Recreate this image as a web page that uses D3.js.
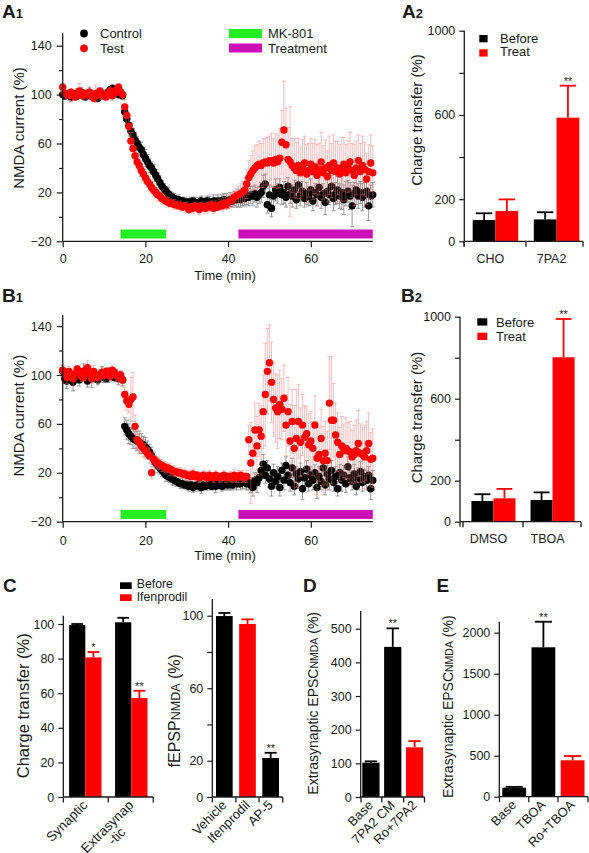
<!DOCTYPE html>
<html>
<head>
<meta charset="utf-8">
<script src="https://cdn.jsdelivr.net/npm/d3@7/dist/d3.min.js"></script>
<style>
html,body{margin:0;padding:0;background:#fff;}
svg{display:block;}
text{font-family:"Liberation Sans",Arial,Helvetica,sans-serif;fill:#1a1a1a;}
</style>
</head>
<body>
<svg id="fig" width="589" height="853"></svg>
<script>
// ================= DATA =================
const timeMin = d3.range(0, 75.01, 0.5);          // sample times (min), 151 samples
const timeTicks = [0, 20, 40, 60];
const nmdaTicksMajor = [-20, 20, 60, 100, 140];
const nmdaTicksMinor = [0, 40, 80, 120];
const mk801Period = [14, 25];
const treatPeriod = [42.5, 75];

// A1
const a1Control = [100,99,101,100,98,100,101,99,100,102,99,98,100,101,99,100,98,97,100,101,99,100,102,104,105,103,101,100,102,
 99,
 86,80,75,70,67,63,60,57,55,51,48,45,42,40,37,34,31,28,25,23,21,19,17,16,15,14,14,13,13,12,12,
 12,12,13,12,11,12,13,12,12,13,12,11,13,12,13,12,13,14,13,12,
 14,13,15,14,15,14,16,15,17,16,
 18,17,19,16,18,20,25,27,10,18,7,17,22,19,24,18,20,16,25,19,17,22,14,26,18,21,15,19,17,22,13,20,18,24,16,19,12,21,18,25,15,19,22,17,20,14,19,21,17,9,19,22,17,20,16,18,21,9,17,18];
const a1ControlErr = [2,3,2,3,4,3,2,3,3,4,3,2,3,5,3,2,4,3,3,2,3,4,3,2,3,3,2,3,3,
 3,
 4,5,5,6,5,6,6,5,6,6,7,6,6,5,6,5,5,6,5,4,4,5,4,4,4,3,4,3,3,4,3,
 3,4,3,4,3,4,4,3,4,4,5,4,5,4,5,4,5,5,6,5,
 6,5,6,6,7,6,7,6,7,7,
 7,8,7,8,7,8,9,8,7,8,7,8,9,8,7,8,9,8,7,8,9,8,7,8,9,8,7,9,8,9,8,7,9,8,9,8,10,9,8,9,10,9,11,10,14,12,10,9,11,17,9,12,10,9,11,10,12,12,9,10];
const a1Test = [106,101,100,99,102,100,98,101,103,100,99,101,100,102,99,97,101,100,103,99,100,98,101,103,99,101,104,106,102,
 100,
 90,83,74,62,56,50,45,42,38,35,32,29,27,24,22,20,18,17,15,14,13,12,11,11,10,10,9,9,8,9,8,
 6,8,7,9,8,6,9,8,7,9,8,10,7,9,8,10,9,11,10,12,
 13,14,16,17,18,19,20,22,27,32,
 35,38,40,42,43,42,44,45,44,46,46,44,47,45,48,61,71,59,47,45,
 42,40,38,42,36,40,44,35,38,43,37,41,34,39,45,36,40,33,42,38,44,37,40,35,39,43,36,41,45,38,34,40,46,37,42,39,31,37,44,36];
const a1TestErr = [3,2,3,4,3,2,3,4,6,3,2,3,4,3,2,3,7,3,2,3,4,3,2,3,4,3,2,3,3,
 4,
 6,7,8,7,6,7,6,6,5,6,5,5,6,5,5,4,5,4,4,4,3,4,3,3,4,3,3,4,3,3,4,
 3,3,4,3,3,4,3,3,4,3,4,3,4,4,3,4,4,5,4,5,
 5,6,5,6,7,8,9,10,12,14,
 15,16,18,17,19,18,20,19,21,20,22,20,21,22,24,26,40,30,26,45,
 22,24,23,22,21,23,22,24,22,21,23,22,25,21,24,22,23,21,24,22,23,25,22,24,26,22,23,21,24,22,25,22,21,23,24,22,21,22,23,22];

// B1
const b1Control = [103,97,95,100,98,94,99,101,96,100,103,98,95,100,97,101,99,96,100,102,98,97,100,99,101,98,100,97,99,
 96,
 58,55,52,50,48,47,46,45,44,43,41,39,37,34,31,28,26,24,22,20,18,17,16,15,14,13,12,11,11,10,10,
 9,10,8,9,10,9,8,10,9,10,11,9,10,9,11,10,9,10,11,10,
 11,10,12,11,12,11,13,12,11,12,
 10,8,14,12,16,22,27,18,24,15,9,20,13,17,8,22,14,26,18,12,24,9,19,15,21,7,16,23,11,18,14,20,8,17,13,24,10,19,15,22,12,17,7,20,14,18,11,25,16,13,19,9,15,21,12,17,14,18,7,14];
const b1ControlErr = [5,4,6,3,5,7,4,3,5,4,6,3,5,4,7,3,5,4,3,5,4,3,6,4,5,3,4,5,4,
 5,
 7,8,8,7,8,7,8,9,8,7,8,7,6,7,6,5,6,5,5,4,5,4,4,5,4,4,3,4,4,3,4,
 4,3,4,4,3,4,5,4,3,4,4,3,4,5,4,3,4,4,5,4,
 5,4,5,5,4,5,6,5,5,6,
 6,7,6,8,7,6,8,7,6,7,8,7,6,8,7,6,8,7,6,7,8,7,6,8,7,9,8,7,6,7,8,7,9,8,7,6,8,7,9,8,7,8,6,7,9,8,7,8,6,7,8,7,9,8,7,6,8,7,9,8];
const b1Test = [104,102,98,103,100,97,101,105,103,99,98,104,106,101,97,103,100,98,99,102,100,103,101,99,104,102,100,98,100,
 96,
 84,79,76,80,82,58,47,45,42,40,38,36,34,20,31,29,28,27,26,25,24,24,23,22,21,21,20,20,19,19,18,
 18,17,19,17,18,16,17,18,17,16,18,17,16,18,17,16,17,18,16,17,
 17,16,18,16,17,18,17,16,17,47,
 28,36,55,42,55,50,70,84,103,110,94,80,73,70,76,72,81,59,70,46,
 62,40,48,62,45,59,49,52,43,46,40,59,32,35,48,30,36,30,77,63,63,51,45,35,42,38,40,38,37,33,35,38,44,36,35,33,38,44,31,32];
const b1TestErr = [4,3,5,4,3,6,4,3,5,4,3,4,6,3,4,5,3,4,3,4,5,3,4,3,4,3,5,4,4,
 5,
 6,8,7,18,20,9,8,7,6,7,6,5,6,5,6,5,5,4,5,4,4,4,5,4,4,3,4,4,3,4,4,
 4,3,4,4,3,4,3,4,4,3,4,3,4,4,3,4,3,4,4,3,
 4,4,5,4,5,4,5,4,5,12,
 33,20,22,24,22,25,30,42,35,31,33,30,28,30,28,25,27,25,28,30,
 26,35,40,30,28,25,26,22,25,24,22,24,30,22,24,28,26,24,38,52,30,26,24,22,24,22,25,23,25,22,24,25,27,24,22,26,24,25,22,24];

// A2
const a2Groups = ["CHO", "7PA2"];
const a2Before = [101, 104];
const a2BeforeErr = [32, 34];
const a2Treat = [144, 587];
const a2TreatErr = [55, 152];
// B2
const b2Groups = ["DMSO", "TBOA"];
const b2Before = [101, 106];
const b2BeforeErr = [33, 37];
const b2Treat = [114, 802];
const b2TreatErr = [46, 187];
const chargeTicks = [0, 200, 400, 600, 800, 1000];
const chargeLabeled = [0, 200, 600, 1000];

// C left
const cGroups = [["Synaptic"], ["Extrasynap", "-tic"]];
const cBefore = [99.4, 101];
const cBeforeErr = [0.6, 2.6];
const cIfen = [80.7, 57.2];
const cIfenErr = [3.1, 4.2];
const cTicks = [0, 20, 40, 60, 80, 100];
// C right
const fGroups = ["Vehicle", "Ifenprodil", "AP-5"];
const fVals = [99.8, 95.4, 21.5];
const fErr = [1.7, 2.6, 2.9];
const fTicks = [0, 20, 40, 60, 80, 100];
const fLabeled = [0, 20, 60, 100];
// D
const dGroups = ["Base", "7PA2 CM", "Ro+7PA2"];
const dVals = [102, 446, 147.5];
const dErr = [4, 55, 18.5];
const dTicks = [0, 100, 200, 300, 400, 500];
// E
const eGroups = ["Base", "TBOA", "Ro+TBOA"];
const eVals = [110, 1822, 444];
const eErr = [10, 312, 52];
const eTicks = [0, 500, 1000, 1500, 2000];

// ================= DRAWING =================
const svg = d3.select("#fig");
const FONT = '"Liberation Sans",Arial,Helvetica,sans-serif';
const INK = "#1a1a1a";
const RED = "#ff0000";
const GREEN = "#22ee22";
const MAGENTA = "#cc10b8";

function styleAxis(g, fs) {
  g.attr("font-family", null).attr("font-size", null);
  g.select(".domain").remove();
  g.selectAll(".tick line").attr("stroke", INK).attr("stroke-width", 1.2);
  g.selectAll(".tick text").attr("font-size", fs).attr("fill", INK).style("font-family", FONT);
}
function vline(x, y1, y2) {
  svg.append("line").attr("x1", x).attr("x2", x).attr("y1", y1).attr("y2", y2)
    .attr("stroke", INK).attr("stroke-width", 1.3);
}
function hline(x1, x2, y) {
  svg.append("line").attr("x1", x1).attr("x2", x2).attr("y1", y).attr("y2", y)
    .attr("stroke", INK).attr("stroke-width", 1.3);
}
function panelLabel(x, y, main, sub) {
  const t = svg.append("text").attr("x", x).attr("y", y).attr("font-weight", "bold")
    .attr("font-size", 19).attr("fill", "#000").text(main);
  if (sub) t.append("tspan").attr("font-size", 13).text(sub);
}
function yTitle(cx, cy, parts, fs) {
  const t = svg.append("text")
    .attr("transform", `translate(${cx + 0.35 * fs},${cy}) rotate(-90)`)
    .attr("text-anchor", "middle").attr("font-size", fs);
  parts.forEach(p => t.append("tspan").attr("font-size", p[1] || fs).text(p[0]));
}
function star(x, y, s) {
  svg.append("text").attr("x", x).attr("y", y - 1).attr("text-anchor", "middle")
    .attr("font-size", 11).attr("fill", "#444").text(s);
}

// ---------- time course panels ----------
function timePanel(o) {
  const x = d3.scaleLinear().domain([0, 75]).range([62.7, 372.8]);
  const y = d3.scaleLinear().domain([-20, 140]).range([o.base, o.base - 195.6]);
  const g = svg.append("g");
  g.append("rect").attr("x", x(mk801Period[0])).attr("width", x(mk801Period[1]) - x(mk801Period[0]))
    .attr("y", o.base - 11.8).attr("height", 9).attr("fill", GREEN);
  g.append("rect").attr("x", x(treatPeriod[0])).attr("width", x(treatPeriod[1]) - x(treatPeriod[0]))
    .attr("y", o.base - 11.8).attr("height", 9).attr("fill", MAGENTA);

  const errs = (vals, es, color, op, w) => {
    g.append("g").attr("stroke", color).attr("stroke-width", w).attr("opacity", op).attr("fill", "none")
      .selectAll("path").data(vals).join("path")
      .attr("d", (v, i) => {
        const xx = x(timeMin[i]), y1 = y(v + es[i]), y2 = y(v - es[i]);
        return `M${xx},${y1}V${y2}M${xx - 2},${y1}h4M${xx - 2},${y2}h4`;
      });
  };
  const dots = (vals, color) => {
    g.append("g").attr("fill", color).selectAll("circle").data(vals).join("circle")
      .attr("cx", (v, i) => x(timeMin[i])).attr("cy", v => y(v)).attr("r", 3.7);
  };
  errs(o.ctrl, o.ctrlErr, "#666", 0.75, 0.9);
  dots(o.ctrl, "#000");
  errs(o.test, o.testErr, "#f07878", 0.55, 0.9);
  dots(o.test, RED);

  vline(x(0), o.axisTop, y(-20));
  hline(x(0), x(75), y(-20));
  const gy = svg.append("g").attr("transform", `translate(${x(0)},0)`)
    .call(d3.axisLeft(y).tickValues(nmdaTicksMajor).tickSize(6).tickPadding(5).tickFormat(d3.format("d")));
  styleAxis(gy, 12.5);
  const gym = svg.append("g").attr("transform", `translate(${x(0)},0)`)
    .call(d3.axisLeft(y).tickValues(nmdaTicksMinor).tickSize(3.5).tickFormat(""));
  styleAxis(gym, 12.5);
  const gx = svg.append("g").attr("transform", `translate(0,${y(-20)})`)
    .call(d3.axisBottom(x).tickValues(timeTicks).tickSize(6).tickPadding(o.xPad).tickFormat(d3.format("d")));
  styleAxis(gx, 12.5);
  svg.append("text").attr("x", 225).attr("y", o.timeY).attr("text-anchor", "middle")
    .attr("font-size", 13).text("Time (min)");
  yTitle(18.3, o.titleY, [["NMDA current (%)"]], 15);
}

timePanel({ base: 241.3, axisTop: 33.3, ctrl: a1Control, ctrlErr: a1ControlErr, test: a1Test, testErr: a1TestErr,
  xPad: 6.5, timeY: 279.5, titleY: 128 });
timePanel({ base: 521.7, axisTop: 315, ctrl: b1Control, ctrlErr: b1ControlErr, test: b1Test, testErr: b1TestErr,
  xPad: 8.5, timeY: 559.5, titleY: 415.7 });

// A1 legend
svg.append("circle").attr("cx", 84).attr("cy", 33.5).attr("r", 3.9).attr("fill", "#000");
svg.append("circle").attr("cx", 84).attr("cy", 48.3).attr("r", 3.9).attr("fill", RED);
svg.append("text").attr("x", 100).attr("y", 38).attr("font-size", 13).text("Control");
svg.append("text").attr("x", 100).attr("y", 52.8).attr("font-size", 13).text("Test");
svg.append("rect").attr("x", 229).attr("y", 29).attr("width", 33).attr("height", 9).attr("fill", GREEN);
svg.append("rect").attr("x", 229).attr("y", 43.5).attr("width", 33).attr("height", 9).attr("fill", MAGENTA);
svg.append("text").attr("x", 268).attr("y", 38).attr("font-size", 13).text("MK-801");
svg.append("text").attr("x", 268).attr("y", 52.8).attr("font-size", 13).text("Treatment");

// ---------- bar chart helper ----------
function barChart(c) {
  const x0 = d3.scaleBand().domain(d3.range(c.n)).range(c.range).paddingInner(c.pIn).paddingOuter(c.pOut);
  const x1 = d3.scaleBand().domain(d3.range(c.series.length)).range([0, x0.bandwidth()]);
  const y = c.y;
  c.series.forEach((s, si) => {
    s.vals.forEach((v, gi) => {
      const bx = x0(gi) + x1(si), bw = x1.bandwidth();
      const col = s.colors ? s.colors[gi] : s.color;
      const cx = bx + bw / 2, top = y(v + s.errs[gi]);
      svg.append("line").attr("x1", cx).attr("x2", cx).attr("y1", y(v)).attr("y2", top)
        .attr("stroke", col).attr("stroke-width", 1.8);
      svg.append("line").attr("x1", cx - bw * 0.36).attr("x2", cx + bw * 0.36).attr("y1", top).attr("y2", top)
        .attr("stroke", col).attr("stroke-width", 1.8);
      svg.append("rect").attr("x", bx).attr("width", bw).attr("y", y(v)).attr("height", y(0) - y(v))
        .attr("fill", col);
      if (s.stars && s.stars[gi]) star(cx, top, s.stars[gi]);
    });
  });
  // axes
  vline(c.yAxisX, c.yTop, y(0) + (c.yExt || 0));
  const ticksX = [c.range[0]];
  for (let i = 0; i < c.n - 1; i++) ticksX.push((x0(i) + x0.bandwidth() + x0(i + 1)) / 2);
  ticksX.push(c.xEnd);
  hline(c.yAxisX, c.xEnd, y(0));
  ticksX.forEach(t => svg.append("line").attr("x1", t).attr("x2", t).attr("y1", y(0)).attr("y2", y(0) + 5.5)
    .attr("stroke", INK).attr("stroke-width", 1.3));
  const gy = svg.append("g").attr("transform", `translate(${c.yAxisX},0)`)
    .call(d3.axisLeft(y).tickValues(c.ticks).tickSize(5).tickPadding(4)
      .tickFormat(d => (!c.labeled || c.labeled.includes(d)) ? d3.format("d")(d) : ""));
  styleAxis(gy, c.tickFs || 12.5);
  // category labels
  for (let i = 0; i < c.n; i++) {
    const cx = x0(i) + x0.bandwidth() / 2;
    const lab = c.labels[i];
    if (c.rotate) {
      const lines = Array.isArray(lab) ? lab : [lab];
      const ax = cx + 3, ay = y(0) + 9;
      const t = svg.append("text").attr("transform", `translate(${ax},${ay}) rotate(-45)`)
        .attr("text-anchor", "end").attr("font-size", c.labFs).text(lines[0]);
      if (lines[1]) {
        const w = t.node().getComputedTextLength();
        svg.append("text")
          .attr("transform", `translate(${ax},${ay}) rotate(-45) translate(${-w / 2},${c.labFs})`)
          .attr("text-anchor", "middle").attr("font-size", c.labFs).text(lines[1]);
      }
    } else {
      svg.append("text").attr("x", cx - 5).attr("y", c.labY).attr("text-anchor", "middle")
        .attr("font-size", c.labFs).text(lab);
    }
  }
  return { x0, x1 };
}
function legend(x, ys, w, h, tx, tys, names, colors, fs) {
  names.forEach((n, i) => {
    svg.append("rect").attr("x", x).attr("y", ys[i]).attr("width", w).attr("height", h).attr("fill", colors[i]);
    svg.append("text").attr("x", tx).attr("y", tys[i]).attr("font-size", fs).text(n);
  });
}

// ---------- A2 ----------
barChart({
  n: 2, range: [464, 588], pIn: 0.255, pOut: 0.142, xEnd: 583, yAxisX: 464.3, yTop: 30.7, yExt: 5,
  y: d3.scaleLinear().domain([0, 1000]).range([241.3, 30.7]),
  ticks: chargeTicks, labeled: chargeLabeled,
  series: [{ vals: a2Before, errs: a2BeforeErr, color: "#000" },
           { vals: a2Treat, errs: a2TreatErr, color: RED, stars: [null, "**"] }],
  labels: a2Groups, labY: 263.3, labFs: 12.5
});
legend(479.3, [35, 49.3], 8.3, 7.3, 500, [42.7, 56], ["Before", "Treat"], ["#000", RED], 13);
yTitle(416.7, 120, [["Charge transfer (%)"]], 15);

// ---------- B2 ----------
barChart({
  n: 2, range: [463, 583], pIn: 0.255, pOut: 0.142, xEnd: 581, yAxisX: 460, yTop: 316.7, yExt: 5,
  y: d3.scaleLinear().domain([0, 1000]).range([521.7, 316.7]),
  ticks: chargeTicks, labeled: chargeLabeled,
  series: [{ vals: b2Before, errs: b2BeforeErr, color: "#000" },
           { vals: b2Treat, errs: b2TreatErr, color: RED, stars: [null, "**"] }],
  labels: b2Groups, labY: 543, labFs: 12.5
});
legend(477.3, [318.3, 332.7], 10, 7.3, 496, [326.7, 340.5], ["Before", "Treat"], ["#000", RED], 13);
yTitle(416.7, 417.5, [["Charge transfer (%)"]], 15);

// ---------- C left ----------
barChart({
  n: 2, range: [63.3, 153.3], pIn: 0.294, pOut: 0.126, xEnd: 153.3, yAxisX: 63.3, yTop: 615.7, yExt: 0,
  y: d3.scaleLinear().domain([0, 100]).range([797, 624]),
  ticks: cTicks,
  series: [{ vals: cBefore, errs: cBeforeErr, color: "#000" },
           { vals: cIfen, errs: cIfenErr, color: RED, stars: ["*", "**"] }],
  labels: cGroups, rotate: true, labFs: 13.5
});
legend(120, [582.3, 594.3], 11.7, 6.7, 136.7, [587.8, 601], ["Before", "Ifenprodil"], ["#000", RED], 12.3);
yTitle(23.3, 705.8, [["Charge transfer (%)"]], 16.5);

// ---------- C right ----------
barChart({
  n: 3, range: [212.3, 282.7], pIn: 0.28, pOut: 0.16, xEnd: 282.7, yAxisX: 212.3, yTop: 599, yExt: 0,
  y: d3.scaleLinear().domain([0, 100]).range([797, 615.7]),
  ticks: fTicks, labeled: fLabeled,
  series: [{ vals: fVals, errs: fErr, colors: ["#000", RED, "#000"], stars: [null, null, "**"] }],
  labels: fGroups, rotate: true, labFs: 13
});
yTitle(174, 710.8, [["fEPSP"], ["NMDA", 12.5], [" (%)"]], 16);

// ---------- D ----------
barChart({
  n: 3, range: [361, 424.5], pIn: 0.21, pOut: 0.06, xEnd: 424.5, yAxisX: 360.7, yTop: 611, yExt: 0,
  y: d3.scaleLinear().domain([0, 500]).range([797, 628.7]),
  ticks: dTicks,
  series: [{ vals: dVals, errs: dErr, colors: ["#000", "#000", RED], stars: [null, "**", null] }],
  labels: dGroups, rotate: true, labFs: 13
});
yTitle(312.7, 703.3, [["Extrasynaptic EPSC"], ["NMDA", 10.5], [" (%)"]], 14);

// ---------- E ----------
barChart({
  n: 3, range: [499.5, 587.3], pIn: 0.185, pOut: 0.096, xEnd: 588, yAxisX: 499.3, yTop: 621.7, yExt: 0,
  y: d3.scaleLinear().domain([0, 2000]).range([796.7, 632.7]),
  ticks: eTicks,
  series: [{ vals: eVals, errs: eErr, colors: ["#000", "#000", RED], stars: [null, "**", null] }],
  labels: eGroups, rotate: true, labFs: 13
});
yTitle(448.3, 706.7, [["Extrasynaptic EPSC"], ["NMDA", 10.5], [" (%)"]], 14);

// ---------- panel letters ----------
panelLabel(2, 18.3, "A", "1");
panelLabel(402, 18.3, "A", "2");
panelLabel(2, 301.7, "B", "1");
panelLabel(401, 301.7, "B", "2");
panelLabel(3, 591.7, "C");
panelLabel(303, 591.7, "D");
panelLabel(436.5, 591.7, "E");
</script>
</body>
</html>
